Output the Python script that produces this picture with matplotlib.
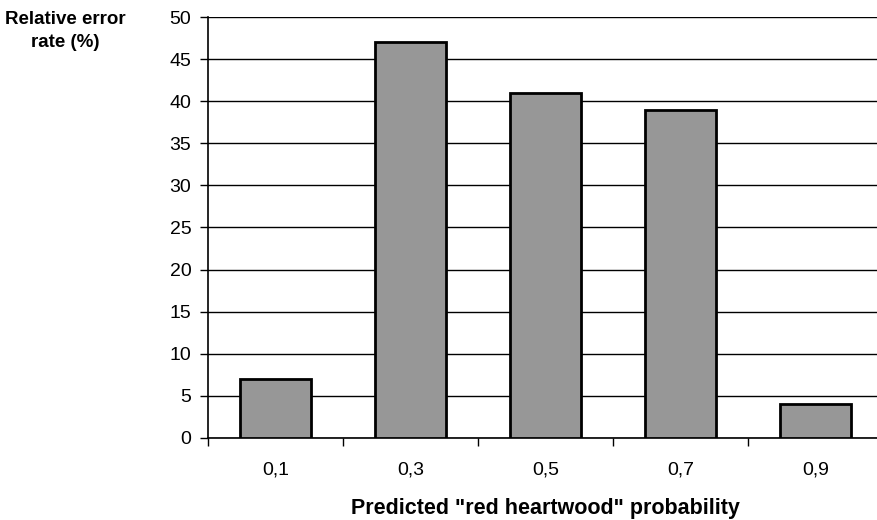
import numpy as np
import matplotlib.pyplot as plt

categories = ['0,1', '0,3', '0,5', '0,7', '0,9']
error_rate = [7, 47, 41, 39, 4]

plt.rcParams['font.family'] = ['Liberation Sans', 'DejaVu Sans']

fig = plt.figure(figsize=(8.78, 5.2), dpi=100)
ax = fig.add_axes([0.2369, 0.1577, 0.7688, 0.8096])

x = np.arange(len(categories))
ax.bar(x, error_rate, width=0.52, color='#979797', edgecolor='black',
       linewidth=2, zorder=3)

ax.set_xlim(-0.5, len(categories) - 0.5)
ax.set_ylim(0, 50)
ax.set_yticks(np.arange(0, 51, 5))
ax.yaxis.grid(True, color='black', linewidth=1, zorder=0)

ax.set_xticks(x)
ax.set_xticklabels(categories)
ax.set_xticks(np.arange(-0.5, len(categories), 1), minor=True)
ax.tick_params(axis='x', which='major', length=0, pad=17, labelsize=14)
ax.tick_params(axis='x', which='minor', length=6, width=1, direction='out')
ax.tick_params(axis='y', length=6, width=1, direction='out', labelsize=14, pad=6)

for s in ['top', 'right']:
    ax.spines[s].set_visible(False)
for s in ['left', 'bottom']:
    ax.spines[s].set_linewidth(1.2)

ax.set_xlabel('Predicted "red heartwood" probability', fontsize=15.5,
              fontweight='bold', labelpad=14)
fig.text(0.074, 0.978, 'Relative error\nrate (%)', ha='center', va='top',
         fontsize=13.5, fontweight='bold', linespacing=1.45)

fig.savefig('out.png', dpi=100)
